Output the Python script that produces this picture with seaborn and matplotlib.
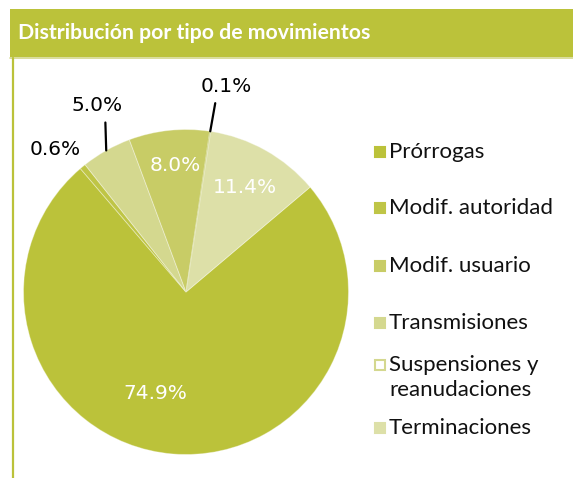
import numpy as np
import pandas as pd
import matplotlib
matplotlib.use("Agg")
import matplotlib.pyplot as plt
import seaborn as sns
from matplotlib.patches import Rectangle
from matplotlib.lines import Line2D

# datos (en el orden de la leyenda)
categorias = ["Prórrogas", "Modif. autoridad", "Modif. usuario", "Transmisiones",
              "Suspensiones y\nreanudaciones", "Terminaciones"]
porcentajes = [74.9, 0.6, 8.0, 5.0, 0.1, 11.4]
# orden de los sectores en el gráfico (sentido horario)
orden_pie = ["Prórrogas", "Modif. autoridad", "Transmisiones", "Modif. usuario",
             "Suspensiones y\nreanudaciones", "Terminaciones"]

colores = {
    "Prórrogas": "#bbc23a",
    "Modif. autoridad": "#bfc546",
    "Modif. usuario": "#c8cc66",
    "Transmisiones": "#d4d88f",
    "Suspensiones y\nreanudaciones": "#ffffff",
    "Terminaciones": "#dde0a8",
}
# posición de etiquetas: (radio, desplazamiento de ángulo, fuera)
etiquetas = {
    "Prórrogas": (0.65, -12, False),
    "Modif. autoridad": (1.19, 3, True),
    "Transmisiones": (1.27, -4, True),
    "Modif. usuario": (0.78, -1, False),
    "Suspensiones y\nreanudaciones": (1.29, -2.5, True),
    "Terminaciones": (0.74, 0, False),
}
lineas = {"Transmisiones": 0.65, "Suspensiones y\nreanudaciones": 0.31}
# líneas base (px) de cada entrada de la leyenda
leyenda_y = [158, 214, 272, 329, 371, 434]

df = pd.DataFrame({"tipo": categorias, "pct": porcentajes}).set_index("tipo")
df_pie = df.loc[orden_pie]

sns.set_theme(style="white")
plt.rcParams["font.family"] = ["Lato", "DejaVu Sans"]

W, H = 573, 478
fig = plt.figure(figsize=(W / 100, H / 100), dpi=100)


def px(x, y):
    return x / W, 1 - y / H


# banda del título
fig.patches.append(Rectangle(px(10, 57), (W - 10) / W, 48 / H, transform=fig.transFigure,
                             facecolor="#bbc23a", edgecolor="none", zorder=0))
fig.lines.append(Line2D([10 / W, 1], [1 - 58 / H] * 2, transform=fig.transFigure,
                        color="#d3d78a", lw=1.2))
fig.lines.append(Line2D([12.5 / W] * 2, [0, 1 - 58 / H], transform=fig.transFigure,
                        color="#bbc23a", lw=1.6))
fig.text(*px(18, 39), "Distribución por tipo de movimientos", color="white",
         fontsize=15.3, fontweight="bold", va="baseline", ha="left")

# gráfico circular
cx, cy, r = 186, 292, 162.5
ax = fig.add_axes([(cx - r) / W, (H - cy - r) / H, 2 * r / W, 2 * r / H])
wedges, _ = ax.pie(df_pie["pct"], colors=[colores[c] for c in df_pie.index],
                   startangle=40.2, counterclock=False, radius=1,
                   wedgeprops=dict(edgecolor=(1, 1, 1, 0.35), linewidth=0.7))
wedges[orden_pie.index("Suspensiones y\nreanudaciones")].set_edgecolor("#d4d88f")
ax.set_xlim(-1, 1)
ax.set_ylim(-1, 1)
ax.set_aspect("equal")
ax.axis("off")

for w, tipo in zip(wedges, df_pie.index):
    mid = np.deg2rad((w.theta1 + w.theta2) / 2)
    rad, dth, fuera = etiquetas[tipo]
    ang = mid + np.deg2rad(dth)
    txt = f"{df_pie.loc[tipo, 'pct']:.1f}%"
    tx, ty = rad * np.cos(ang), rad * np.sin(ang)
    if not fuera:
        ax.text(tx, ty, txt, color="white", fontsize=14.5, ha="center", va="center",
                family="DejaVu Sans")
    elif tipo in lineas:
        ax.annotate(txt, xy=(np.cos(mid), np.sin(mid)), xytext=(tx, ty),
                    fontsize=14.5, ha="center", va="center", family="DejaVu Sans",
                    color="black", annotation_clip=False,
                    arrowprops=dict(arrowstyle="-", color="black", lw=1.6,
                                    relpos=(lineas[tipo], 0), shrinkA=3, shrinkB=0))
    else:
        ax.text(tx, ty, txt, color="black", fontsize=14.5, ha="center", va="center",
                family="DejaVu Sans", clip_on=False)

# leyenda
for tipo, yb in zip(df.index, leyenda_y):
    c = colores[tipo]
    borde = "#d4d88f" if c == "#ffffff" else c
    fig.patches.append(Rectangle(px(375, yb - 1), 10 / W, 10 / H, transform=fig.transFigure,
                                 facecolor=c, edgecolor=borde, linewidth=1.5))
    for i, linea in enumerate(tipo.split("\n")):
        fig.text(*px(389, yb + 25 * i), linea, fontsize=16, color="#111111",
                 va="baseline", ha="left")

fig.savefig("out.png", dpi=100)
